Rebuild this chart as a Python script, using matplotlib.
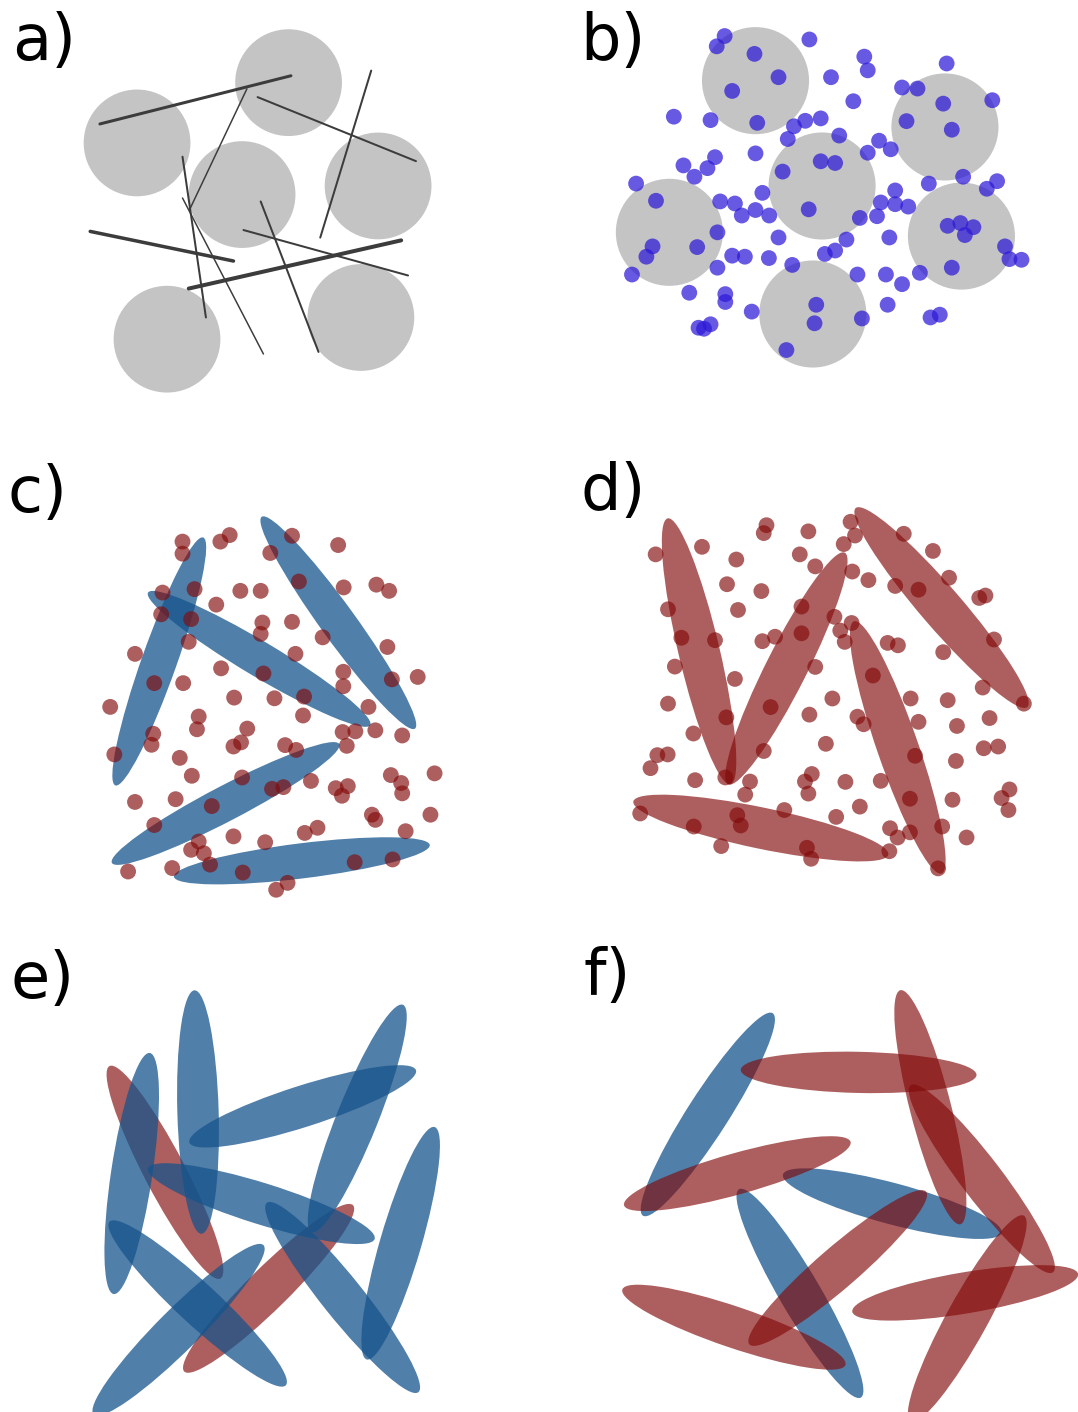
import numpy as np
import matplotlib
matplotlib.use("Agg")
import matplotlib.pyplot as plt
from matplotlib.patches import Circle, Ellipse

FIG_W, FIG_H = 1078, 1412

# ---------------------------------------------------------------------------
# Geometry of each sketch, in the panel's own drawing units
# ---------------------------------------------------------------------------

# a) spheres with rods
a_sphere_xy = [(838, 240), (398, 415), (703, 565), (1098, 540), (485, 985), (1048, 922)]
a_sphere_r = 155
a_rods = [  # x0, y0, x1, y1
    (290, 360, 845, 220),
    (748, 282, 1208, 468),
    (1078, 205, 930, 690),
    (717, 258, 550, 610),
    (530, 455, 598, 922),
    (530, 575, 765, 1028),
    (262, 672, 678, 758),
    (707, 668, 1185, 800),
    (548, 838, 1165, 698),
    (757, 585, 925, 1022),
]
a_rod_lw = [3.0, 2.0, 2.0, 1.5, 2.0, 1.5, 3.5, 2.0, 4.0, 2.0]

# b) spheres with small particles
b_sphere_xy = [(628, 235), (822, 542), (1180, 370), (377, 677), (1228, 688), (795, 915)]
b_sphere_r = 156
b_particles = [
    (538, 105), (515, 135), (785, 115), (625, 157), (695, 225), (560, 265), (945, 165),
    (955, 205), (848, 225), (1185, 185), (1055, 255), (1100, 258), (1175, 302), (1318, 292),
    (913, 295), (390, 340), (497, 350), (633, 358), (1068, 353), (1200, 378), (818, 345),
    (773, 352), (740, 368), (722, 405), (872, 395), (988, 410), (1022, 435), (955, 445),
    (628, 447), (510, 458), (418, 482), (488, 490), (450, 515), (707, 500), (818, 470),
    (860, 475), (280, 535), (1133, 535), (1233, 515), (1332, 528), (1302, 550), (338, 585),
    (648, 562), (525, 587), (568, 593), (588, 628), (628, 612), (668, 628), (783, 610),
    (932, 635), (982, 630), (1035, 555), (1035, 595), (1073, 602), (993, 590), (517, 677),
    (1188, 658), (1225, 650), (1263, 662), (1238, 685), (695, 692), (1018, 692), (893, 698),
    (860, 730), (830, 740), (328, 718), (310, 748), (458, 720), (560, 745), (597, 748),
    (667, 752), (735, 772), (517, 780), (268, 800), (1355, 718), (1368, 755), (1403, 757),
    (1200, 780), (1107, 795), (925, 800), (1008, 800), (1055, 828), (435, 853), (540, 857),
    (540, 880), (805, 888), (800, 942), (938, 928), (1013, 888), (617, 908), (1165, 917),
    (1138, 925), (497, 945), (462, 955), (478, 958), (718, 1020),
]

# c) blue rods among red particles (rods given tip to tip)
c_rods = [
    (590, 225, 335, 945),
    (430, 385, 1075, 770),
    (760, 165, 1205, 780),
    (325, 1170, 985, 825),
    (505, 1210, 1248, 1118),
]
c_particles = [
    (530, 237), (530, 272), (640, 237), (667, 218), (848, 220), (785, 270), (982, 247),
    (868, 353), (998, 370), (1093, 362), (1130, 380), (698, 380), (757, 380), (565, 375),
    (472, 385), (628, 420), (468, 448), (555, 462), (762, 472), (757, 505), (848, 470),
    (937, 515), (1125, 543), (548, 528), (392, 563), (858, 563), (642, 605), (997, 615),
    (1213, 630), (1138, 637), (448, 648), (532, 648), (765, 620), (997, 657), (680, 690),
    (797, 692), (883, 687), (320, 717), (1070, 717), (577, 745), (880, 742), (572, 782),
    (718, 780), (995, 790), (1032, 788), (1090, 785), (1168, 800), (445, 795), (440, 827),
    (678, 832), (700, 820), (332, 855), (828, 828), (860, 842), (1007, 830), (522, 865),
    (557, 917), (703, 922), (903, 932), (1135, 915), (1262, 910), (790, 955), (823, 950),
    (975, 953), (1010, 947), (993, 975), (1165, 938), (1168, 968), (392, 993), (510, 985),
    (615, 1005), (448, 1060), (1080, 1030), (1090, 1045), (1250, 1030), (678, 1093),
    (922, 1068), (885, 1083), (770, 1110), (1178, 1078), (577, 1108), (555, 1132),
    (592, 1142), (610, 1175), (372, 1195), (500, 1185), (705, 1198), (1030, 1168),
    (1140, 1160), (835, 1228), (802, 1248),
]

# d) red rods among red particles
d_rods = [
    (372, 170, 555, 945),
    (888, 270, 548, 945),
    (920, 140, 1420, 720),
    (915, 470, 1170, 1205),
    (272, 995, 1015, 1150),
]
d_particles = [
    (660, 190), (652, 213), (782, 208), (905, 180), (918, 220), (885, 245), (472, 253),
    (337, 275), (572, 290), (757, 275), (1060, 215), (1145, 265), (802, 310), (910, 325),
    (957, 350), (545, 362), (645, 382), (1035, 367), (1103, 378), (1192, 343), (1280, 402),
    (1298, 395), (373, 435), (577, 437), (762, 427), (858, 457), (908, 475), (875, 497),
    (888, 530), (1013, 533), (1043, 540), (412, 518), (510, 525), (762, 505), (648, 528),
    (685, 515), (1323, 523), (1175, 560), (393, 602), (802, 603), (970, 628), (568, 638),
    (672, 720), (852, 695), (373, 710), (1080, 695), (1188, 700), (1290, 663), (785, 742),
    (925, 748), (943, 770), (543, 750), (1103, 763), (1215, 775), (1310, 752), (1410, 710),
    (447, 797), (833, 827), (1093, 862), (1293, 840), (1335, 835), (1212, 877), (342, 860),
    (372, 858), (322, 898), (652, 848), (540, 925), (612, 937), (772, 937), (792, 915),
    (782, 972), (890, 938), (993, 935), (452, 933), (598, 975), (1078, 987), (1202, 990),
    (1368, 960), (1345, 985), (1365, 1020), (932, 1010), (712, 1020), (863, 1040),
    (575, 1035), (585, 1065), (292, 1030), (448, 1068), (1020, 1073), (1042, 1100),
    (1078, 1085), (1172, 1068), (1243, 1100), (528, 1125), (778, 1130), (790, 1162),
    (1018, 1140), (1160, 1190),
]

# e) mostly blue rods with two red ones
e_blue_rods = [
    (565, 88, 585, 795),
    (435, 270, 330, 970),
    (550, 530, 1208, 320),
    (1170, 130, 905, 790),
    (430, 605, 1088, 810),
    (1262, 485, 1065, 1160),
    (775, 705, 1215, 1255),
    (318, 760, 830, 1235),
    (765, 828, 272, 1320),
]
e_red_rods = [
    (318, 308, 640, 925),
    (1025, 712, 535, 1195),
]

# f) mostly red rods with three blue ones
f_blue_rods = [
    (678, 155, 300, 745),
    (708, 625, 1345, 795),
    (580, 668, 935, 1275),
]
f_red_rods = [
    (585, 320, 1272, 335),
    (1050, 88, 1225, 770),
    (245, 715, 905, 530),
    (1080, 365, 1495, 910),
    (1125, 675, 610, 1120),
    (240, 960, 890, 1180),
    (910, 1025, 1568, 915),
    (1410, 745, 1080, 1345),
]

# ---------------------------------------------------------------------------
# Styling and layout
# ---------------------------------------------------------------------------
GREY = "#c4c4c4"
ROD_LINE = "#3c3c3c"
VIOLET = (45 / 255, 25 / 255, 215 / 255)
BLUE = (22 / 255, 84 / 255, 140 / 255)
RED = (130 / 255, 10 / 255, 10 / 255)
A_DOT, A_BLUE, A_RED = 0.72, 0.75, 0.65
DOT_R = 23
ROD_W_THIN = 102
ROD_W = 120

# pixel box (left, top, width, height) and drawing units per pixel
LAYOUT = {
    "a": ((0, 0, 540, 420), 2.904),
    "b": ((540, 0, 538, 420), 2.914),
    "c": ((0, 460, 540, 440), 2.904),
    "d": ((540, 460, 538, 440), 2.914),
    "e": ((0, 960, 540, 452), 2.904),
    "f": ((540, 960, 538, 452), 2.914),
}
LABEL_POS = {"a": (34, 175), "b": (118, 175), "c": (22, 150),
             "d": (118, 145), "e": (30, 110), "f": (128, 103)}


def make_panel(fig, key):
    (left, top, w, h), s = LAYOUT[key]
    ax = fig.add_axes([left / FIG_W, 1 - (top + h) / FIG_H, w / FIG_W, h / FIG_H])
    ax.set_xlim(0, w * s)
    ax.set_ylim(h * s, 0)
    ax.set_axis_off()
    lx, ly = LABEL_POS[key]
    ax.text(lx, ly, key + ")", fontsize=46, ha="left", va="baseline",
            family="DejaVu Sans", color="black")
    return ax


def add_rod(ax, tips, width, color, alpha):
    x0, y0, x1, y1 = tips
    centre = ((x0 + x1) / 2, (y0 + y1) / 2)
    length = np.hypot(x1 - x0, y1 - y0)
    angle = np.degrees(np.arctan2(y1 - y0, x1 - x0))
    ax.add_patch(Ellipse(centre, length, width, angle=angle, facecolor=color,
                         alpha=alpha, linewidth=0, clip_on=False))


def add_dots(ax, points, color, alpha, r=DOT_R):
    for x, y in points:
        ax.add_patch(Circle((x, y), r, facecolor=color, alpha=alpha,
                            linewidth=0, clip_on=False))


fig = plt.figure(figsize=(FIG_W / 100, FIG_H / 100), dpi=100)
fig.patch.set_facecolor("white")

# a)
ax = make_panel(fig, "a")
for x, y in a_sphere_xy:
    ax.add_patch(Circle((x, y), a_sphere_r, facecolor=GREY, linewidth=0))
for (x0, y0, x1, y1), lw in zip(a_rods, a_rod_lw):
    ax.plot([x0, x1], [y0, y1], color=ROD_LINE, lw=lw * 0.72,
            solid_capstyle="round")

# b)
ax = make_panel(fig, "b")
for x, y in b_sphere_xy:
    ax.add_patch(Circle((x, y), b_sphere_r, facecolor=GREY, linewidth=0))
add_dots(ax, b_particles, VIOLET, A_DOT)

# c)
ax = make_panel(fig, "c")
for rod in c_rods:
    add_rod(ax, rod, ROD_W_THIN, BLUE, A_BLUE)
add_dots(ax, c_particles, RED, A_RED)

# d)
ax = make_panel(fig, "d")
for rod in d_rods:
    add_rod(ax, rod, ROD_W, RED, A_RED)
add_dots(ax, d_particles, RED, A_RED)

# e)
ax = make_panel(fig, "e")
for rod in e_red_rods:
    add_rod(ax, rod, ROD_W, RED, A_RED)
for rod in e_blue_rods:
    add_rod(ax, rod, ROD_W, BLUE, A_BLUE)

# f)
ax = make_panel(fig, "f")
for rod in f_blue_rods:
    add_rod(ax, rod, ROD_W, BLUE, A_BLUE)
for rod in f_red_rods:
    add_rod(ax, rod, ROD_W, RED, A_RED)

fig.savefig("out.png", dpi=100, facecolor="white")
